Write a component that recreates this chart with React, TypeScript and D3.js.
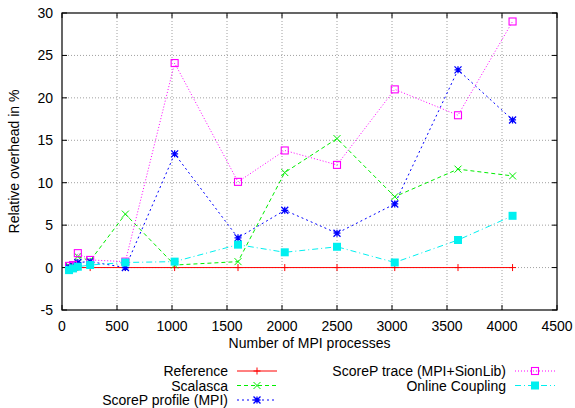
import * as d3 from "d3";

// MPI process counts (x) and relative overhead in % per tool
const procs = [64, 100, 144, 256, 576, 1024, 1600, 2025, 2500, 3025, 3600, 4096];
const reference = [0, 0, 0, 0, 0, 0, 0, 0, 0, 0, 0, 0];
const scalasca = [0.2, 0.3, 1.3, 0.8, 6.3, 0.3, 0.7, 11.2, 15.2, 8.35, 11.6, 10.8];
const profileMpi = [0, 0.2, 0.6, 0.7, 0, 13.4, 3.5, 6.75, 4.05, 7.5, 23.3, 17.4];
const traceSion = [0.2, 0.3, 1.7, 0.9, 0.7, 24.1, 10.1, 13.8, 12.1, 21.0, 17.95, 29.0];
const onlineCoupling = [-0.3, -0.1, 0.1, 0.3, 0.6, 0.7, 2.7, 1.8, 2.45, 0.6, 3.25, 6.1];

const xTicks = [0, 500, 1000, 1500, 2000, 2500, 3000, 3500, 4000, 4500];
const yTicks = [-5, 0, 5, 10, 15, 20, 25, 30];

type Series = {
  name: string;
  values: number[];
  color: string;
  dash: string;
  marker: "plus" | "cross" | "star" | "box" | "boxfill";
};

const series: Series[] = [
  { name: "Reference", values: reference, color: "#ff0000", dash: "", marker: "plus" },
  { name: "Scalasca", values: scalasca, color: "#00ee00", dash: "4,3", marker: "cross" },
  { name: "ScoreP profile (MPI)", values: profileMpi, color: "#0000ff", dash: "2,3", marker: "star" },
  { name: "ScoreP trace (MPI+SionLib)", values: traceSion, color: "#ff00ff", dash: "1,2", marker: "box" },
  { name: "Online Coupling", values: onlineCoupling, color: "#00f0f0", dash: "6,3,1,3", marker: "boxfill" },
];

const W = 575;
const H = 408;
const M = { left: 62, right: 18, top: 13, bottom: 98 };

function Marker({ kind, x, y, color }: { kind: Series["marker"]; x: number; y: number; color: string }) {
  const s = 3.5;
  if (kind === "plus")
    return <path d={`M${x - s},${y}H${x + s}M${x},${y - s}V${y + s}`} stroke={color} strokeWidth={1} />;
  if (kind === "cross")
    return <path d={`M${x - s},${y - s}L${x + s},${y + s}M${x - s},${y + s}L${x + s},${y - s}`} stroke={color} strokeWidth={1} />;
  if (kind === "star")
    return (
      <path
        d={`M${x - s},${y}H${x + s}M${x},${y - s}V${y + s}M${x - s},${y - s}L${x + s},${y + s}M${x - s},${y + s}L${x + s},${y - s}`}
        stroke={color}
        strokeWidth={1.3}
      />
    );
  if (kind === "box")
    return <rect x={x - s} y={y - s} width={2 * s} height={2 * s} fill="none" stroke={color} strokeWidth={1.1} />;
  return <rect x={x - 4} y={y - 4} width={8} height={8} fill={color} />;
}

export default function App() {
  const x = d3.scaleLinear().domain([0, 4500]).range([M.left, W - M.right]);
  const y = d3.scaleLinear().domain([-5, 30]).range([H - M.bottom, M.top]);
  const x0 = x.range()[0];
  const x1 = x.range()[1];
  const y0 = y.range()[0];
  const y1 = y.range()[1];

  const line = d3
    .line<[number, number]>()
    .x((d) => x(d[0]))
    .y((d) => y(d[1]));

  const font = "'Liberation Sans', Arial, Helvetica, sans-serif";

  const legendRows = [
    { s: series[0], tx: 228, ly: 371 },
    { s: series[1], tx: 228, ly: 385.5 },
    { s: series[2], tx: 228, ly: 400 },
    { s: series[3], tx: 506, ly: 371 },
    { s: series[4], tx: 506, ly: 385.5 },
  ];

  return (
    <svg
      width={W}
      height={H}
      style={{ position: "absolute", left: 0, top: 0, background: "#fff" }}
      fontFamily={font}
      fontSize={14}
    >
      {/* grid */}
      <g stroke="#a0a0a0" strokeWidth={1} strokeDasharray="1,2">
        {xTicks.slice(1, -1).map((t) => (
          <line key={"gx" + t} x1={x(t)} x2={x(t)} y1={y0} y2={y1} />
        ))}
        {yTicks.slice(1, -1).map((t) => (
          <line key={"gy" + t} x1={x0} x2={x1} y1={y(t)} y2={y(t)} />
        ))}
      </g>

      {/* ticks, all four sides */}
      <g stroke="#000" strokeWidth={1}>
        {xTicks.map((t) => (
          <g key={"tx" + t}>
            <line x1={x(t)} x2={x(t)} y1={y0} y2={y0 - 5} />
            <line x1={x(t)} x2={x(t)} y1={y1} y2={y1 + 5} />
          </g>
        ))}
        {yTicks.map((t) => (
          <g key={"ty" + t}>
            <line x1={x0} x2={x0 + 5} y1={y(t)} y2={y(t)} />
            <line x1={x1} x2={x1 - 5} y1={y(t)} y2={y(t)} />
          </g>
        ))}
      </g>

      {/* tick labels */}
      {xTicks.map((t) => (
        <text key={"lx" + t} x={x(t)} y={y0 + 21} textAnchor="middle" fill="#000">
          {t}
        </text>
      ))}
      {yTicks.map((t) => (
        <text key={"ly" + t} x={x0 - 9} y={y(t) + 5} textAnchor="end" fill="#000">
          {t}
        </text>
      ))}

      {/* series */}
      {series.map((s) => {
        const pts = procs.map((p, i) => [p, s.values[i]] as [number, number]);
        return (
          <g key={s.name}>
            <path d={line(pts) ?? ""} fill="none" stroke={s.color} strokeWidth={1} strokeDasharray={s.dash} />
            {pts.map((d, i) => (
              <Marker key={i} kind={s.marker} x={x(d[0])} y={y(d[1])} color={s.color} />
            ))}
          </g>
        );
      })}

      {/* frame */}
      <rect x={x0} y={y1} width={x1 - x0} height={y0 - y1} fill="none" stroke="#000" strokeWidth={1.2} />

      {/* axis titles */}
      <text x={(x0 + x1) / 2} y={y0 + 38} textAnchor="middle" fill="#000">
        Number of MPI processes
      </text>
      <text transform={`translate(19,${(y0 + y1) / 2}) rotate(-90)`} textAnchor="middle" fill="#000">
        Relative overhead in %
      </text>

      {/* legend */}
      {legendRows.map(({ s, tx, ly }) => (
        <g key={"lg" + s.name}>
          <text x={tx} y={ly + 5} textAnchor="end" fill="#000">
            {s.name}
          </text>
          <line x1={tx + 9} x2={tx + 49} y1={ly} y2={ly} stroke={s.color} strokeWidth={1} strokeDasharray={s.dash} />
          <Marker kind={s.marker} x={tx + 29} y={ly} color={s.color} />
        </g>
      ))}
    </svg>
  );
}
